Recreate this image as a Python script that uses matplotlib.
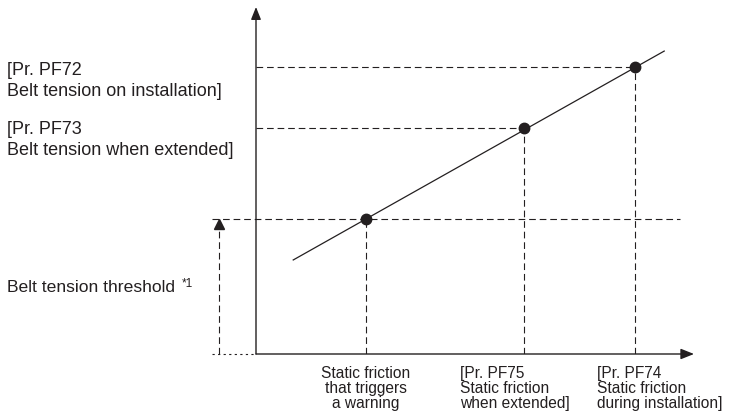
import matplotlib
matplotlib.use("Agg")
import matplotlib.pyplot as plt

plt.rcParams['font.family'] = ['Liberation Sans', 'DejaVu Sans']

INK = '#231f20'

# static friction (x) and belt tension (y) of the three marked points
friction = [2.51, 6.12, 8.65]
tension = [3.89, 6.51, 8.27]
# straight characteristic line
line_x = [0.85, 9.32]
line_y = [2.71, 8.73]
# threshold helper lines
thr_left = -1.0
thr_right = 9.68
thr_arrow_x = -0.845

left_labels = ['[Pr. PF72\nBelt tension on installation]',
               '[Pr. PF73\nBelt tension when extended]']
bottom_labels = ['Static friction\nthat triggers\na warning',
                 '[Pr. PF75\nStatic friction\nwhen extended]',
                 '[Pr. PF74\nStatic friction\nduring installation]']

fig = plt.figure(figsize=(7.29, 4.16), dpi=100)
ax = fig.add_axes([256 / 729, 62 / 416, 438 / 729, 347 / 416])
ax.set_xlim(0, 10)
ax.set_ylim(0, 10)
ax.axis('off')

dash = (0, (6, 3.5))

# axes with arrow heads
ax.annotate('', xy=(0, 10), xytext=(0, 0),
            arrowprops=dict(arrowstyle='-|>,head_length=0.75,head_width=0.3',
                            color=INK, lw=1.0, shrinkA=0, shrinkB=0))
ax.annotate('', xy=(10, 0), xytext=(0, 0),
            arrowprops=dict(arrowstyle='-|>,head_length=0.8,head_width=0.32',
                            color=INK, lw=1.0, shrinkA=0, shrinkB=0))

# guide lines to the points
t_thr = tension[0]
ax.plot([thr_left, thr_right], [t_thr, t_thr], color=INK, lw=0.8,
        linestyle=dash, clip_on=False)
for fx, ty in zip(friction[1:], tension[1:]):
    ax.plot([0, fx], [ty, ty], color=INK, lw=0.8, linestyle=dash)
for fx, ty in zip(friction, tension):
    ax.plot([fx, fx], [0, ty], color=INK, lw=0.8, linestyle=dash)

# threshold marker on the left
ax.plot([thr_left, 0], [0, 0], color=INK, lw=0.8, linestyle=(0, (2, 3)),
        clip_on=False)
ax.plot([thr_arrow_x, thr_arrow_x], [0, t_thr - 0.3], color=INK, lw=0.8,
        linestyle=dash, clip_on=False)
ax.plot([thr_arrow_x], [t_thr - 0.15], marker='^', markersize=7.5,
        color=INK, clip_on=False)

ax.plot(line_x, line_y, color=INK, lw=0.9)
ax.plot(friction, tension, 'o', color=INK, markersize=7.5, zorder=5)

# labels
fig.text(7 / 729, 1 - 62 / 416, left_labels[0], ha='left', va='top',
         fontsize=13, color=INK, linespacing=1.3)
fig.text(7 / 729, 1 - 121 / 416, left_labels[1], ha='left', va='top',
         fontsize=13, color=INK, linespacing=1.3)
fig.text(7 / 729, 1 - 288 / 416, 'Belt tension threshold', ha='left',
         va='center', fontsize=12.6, color=INK)
fig.text(182 / 729, 1 - 284 / 416, '*1', ha='left', va='center',
         fontsize=8.5, color=INK)

fig.text(366 / 729, 1 - 366 / 416, bottom_labels[0], ha='center', va='top',
         fontsize=11.2, color=INK, linespacing=1.02, multialignment='center')
fig.text(460 / 729, 1 - 366 / 416, bottom_labels[1], ha='left', va='top',
         fontsize=11.2, color=INK, linespacing=1.02)
fig.text(597 / 729, 1 - 366 / 416, bottom_labels[2], ha='left', va='top',
         fontsize=11.2, color=INK, linespacing=1.02)

fig.savefig('out.png', dpi=100)
